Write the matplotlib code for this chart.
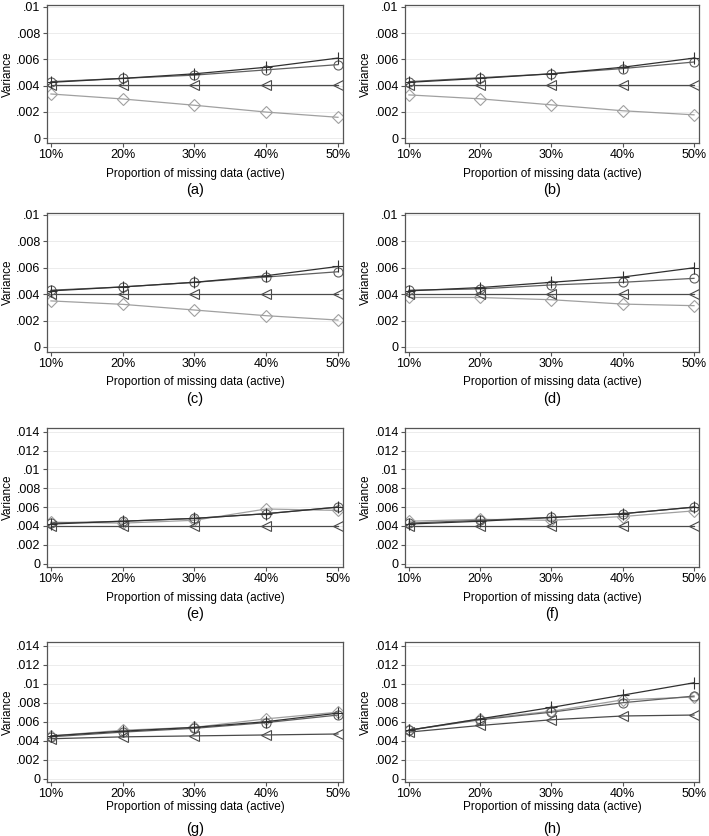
import matplotlib
matplotlib.use("Agg")
import matplotlib.pyplot as plt
from matplotlib.ticker import FuncFormatter

plt.rcParams['font.family'] = ['Liberation Sans', 'DejaVu Sans']

missing = [10, 20, 30, 40, 50]
panels = ['(a)', '(b)', '(c)', '(d)', '(e)', '(f)', '(g)', '(h)']

# series per panel: plus, circle, triangle, diamond
plus_vals = [
    [.00425, .00455, .0049, .0054, .0061],
    [.00425, .00455, .0049, .0054, .0061],
    [.00425, .00455, .0049, .0054, .0061],
    [.00425, .0045, .0049, .0053, .0060],
    [.0042, .0045, .0048, .0053, .0060],
    [.0042, .0045, .0049, .0053, .0060],
    [.0045, .0050, .0054, .0060, .0069],
    [.0051, .0063, .0075, .0088, .0101],
]
circle_vals = [
    [.0043, .00455, .0048, .0052, .0056],
    [.0043, .0046, .0049, .0053, .0058],
    [.0043, .00455, .0049, .0053, .0057],
    [.0043, .0044, .0047, .0049, .0052],
    [.0043, .0045, .0048, .0053, .0060],
    [.0043, .0046, .0049, .0053, .0060],
    [.0044, .0049, .0053, .0059, .0067],
    [.0051, .0062, .0070, .0080, .0087],
]
triangle_vals = [
    [.00405, .00405, .00405, .00405, .00405],
    [.00405, .00405, .00405, .00405, .00405],
    [.00405, .00405, .00405, .00405, .00405],
    [.00405, .00405, .00405, .00405, .00405],
    [.0040, .0040, .0040, .0040, .0040],
    [.0040, .0040, .0040, .0040, .0040],
    [.0042, .0044, .0045, .0046, .0047],
    [.0049, .0056, .0062, .0066, .0067],
]
diamond_vals = [
    [.00336, .00298, .0025, .00198, .00158],
    [.00329, .00299, .00253, .00208, .00177],
    [.00349, .00323, .0028, .00237, .00204],
    [.00375, .00375, .00358, .00325, .00313],
    [.0044, .0043, .0046, .0058, .00565],
    [.0045, .0047, .0046, .0050, .0056],
    [.0045, .0051, .0054, .0063, .0070],
    [.0051, .0063, .0071, .0083, .0086],
]

W, H = 709, 836
fig = plt.figure(figsize=(W / 100, H / 100), dpi=100)

# axes boxes in pixels: left, top, right, bottom
col_x = [(47, 343), (405, 699)]
row_y = [(5, 143), (213, 352), (428, 567), (642, 782)]


def yfmt(v, pos):
    if abs(v) < 1e-12:
        return '0'
    s = ('%.3f' % v).rstrip('0')
    return s.lstrip('0')


for i, name in enumerate(panels):
    r, c = divmod(i, 2)
    l, rr = col_x[c]
    t, b = row_y[r]
    h = b - t
    ax = fig.add_axes([l / W, 1 - b / H, (rr - l) / W, h / H])

    ax.plot(missing, diamond_vals[i], color='#a0a0a0', lw=0.9, marker='D', ms=6,
            mfc='none', mec='#a0a0a0', mew=0.8)
    ax.plot(missing, triangle_vals[i], color='#4a4a4a', lw=0.9, marker='<', ms=7,
            mfc='none', mec='#4a4a4a', mew=0.8)
    ax.plot(missing, circle_vals[i], color='#606060', lw=0.9, marker='o', ms=6.5,
            mfc='none', mec='#606060', mew=0.8)
    ax.plot(missing, plus_vals[i], color='#303030', lw=0.9, marker='+', ms=9,
            mec='#303030', mew=0.8)

    if r < 2:
        ax.set_ylim(-0.00038, 0.01015)
        ax.set_yticks([0, .002, .004, .006, .008, .01])
    else:
        ax.set_ylim(-0.00036, 0.0144)
        ax.set_yticks([0, .002, .004, .006, .008, .01, .012, .014])
    ax.yaxis.set_major_formatter(FuncFormatter(yfmt))
    ax.set_xlim(9.45, 50.7)
    ax.set_xticks(missing)
    ax.set_xticklabels(['%d%%' % m for m in missing])

    ax.grid(axis='y', color='#ececec', lw=0.7)
    ax.set_axisbelow(True)
    for sp in ax.spines.values():
        sp.set_color('#555555')
        sp.set_linewidth(0.9)
    ax.tick_params(axis='both', labelsize=9, length=3, width=0.8,
                   color='#555555', pad=1.5)

    ax.set_ylabel('Variance', fontsize=8.5, labelpad=2)
    ax.set_xlabel('Proportion of missing data (active)', fontsize=8.5,
                  labelpad=4.5 if r < 3 else 0.5)
    ax.text(0.5, -47 / h, name, transform=ax.transAxes,
            ha='center', va='center', fontsize=10.5)

fig.savefig('out.png', dpi=100)
